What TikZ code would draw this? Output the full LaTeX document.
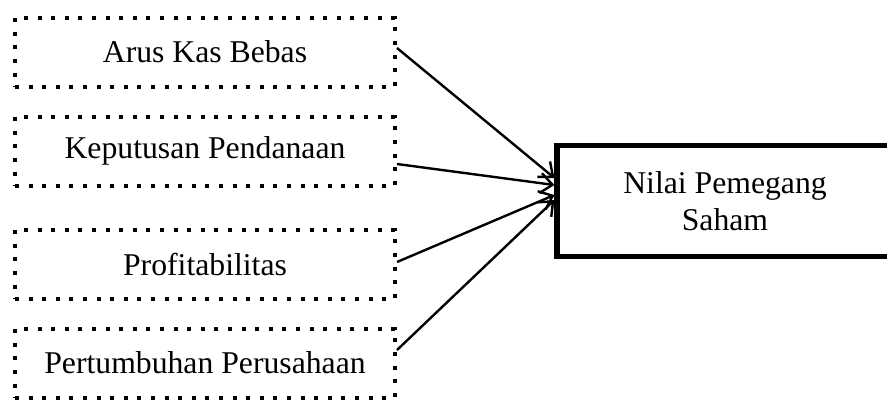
\documentclass[tikz,border=0pt]{standalone}
\usepackage{fontspec}
\setmainfont{Liberation Serif}
\usetikzlibrary{arrows.meta}
\begin{document}
\begin{tikzpicture}[x=0.5pt,y=-0.5pt,
  varbox/.style={draw=black, line width=2pt, dash pattern=on 2pt off 4.8pt, minimum width=190pt, minimum height=34.5pt, inner sep=0pt, font=\fontsize{15.85}{18.7}\selectfont},
  resbox/.style={draw=black, line width=2.6pt, minimum width=168pt, minimum height=55.5pt, inner sep=0pt, align=center, font=\fontsize{15.85}{18.7}\selectfont},
  link/.style={line width=1.2pt, -{Straight Barb[length=6pt,width=10pt]}}]
\useasboundingbox (0,0) rectangle (887,402);
\node[varbox](kas) at (205,52) {Arus Kas Bebas};
\node[varbox](dana) at (205,151) {Keputusan Pendanaan};
\node[varbox](profit) at (205,264) {Profitabilitas};
\node[varbox](tumbuh) at (205,363) {Pertumbuhan Perusahaan};

\node[resbox](nilai) at (725,201) {Nilai Pemegang\\Saham};

\draw[link] ([yshift=2pt]kas.east) to ([yshift=11.5pt]nilai.west);
\draw[link] ([yshift=-6.5pt]dana.east) to ([yshift=8pt]nilai.west);
\draw[link] ([yshift=1pt]profit.east) to ([yshift=3pt]nilai.west);
\draw[link] ([yshift=6.5pt]tumbuh.east) to ([yshift=0.5pt]nilai.west);

\end{tikzpicture}
\end{document}
